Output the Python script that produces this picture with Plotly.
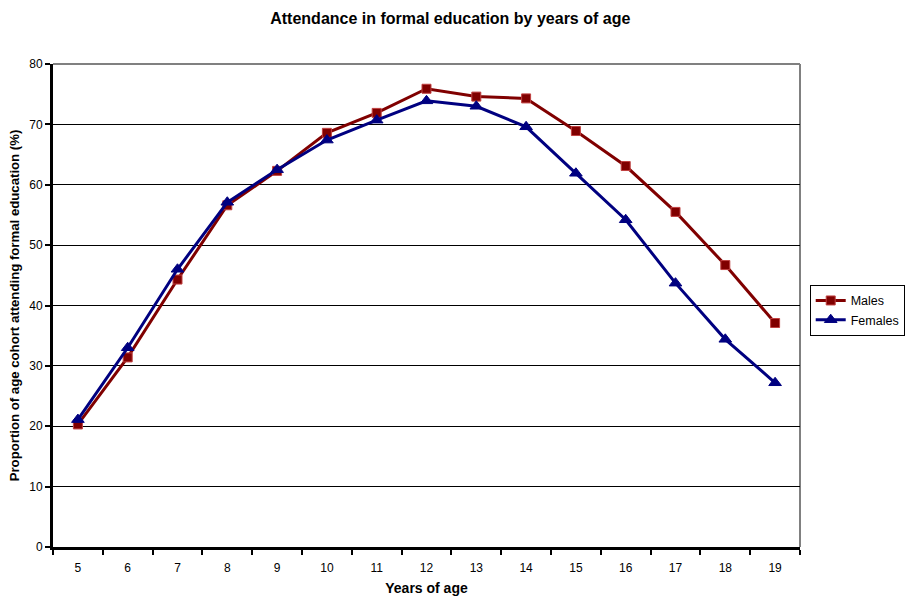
import plotly.graph_objects as go

# Age groups and attendance rates (%)
ages = ["5", "6", "7", "8", "9", "10", "11", "12", "13", "14", "15", "16", "17", "18", "19"]
males = [20.3, 31.4, 44.3, 56.6, 62.3, 68.6, 71.9, 75.9, 74.6, 74.3, 68.9, 63.1, 55.5, 46.7, 37.1]
females = [21.1, 33.0, 46.0, 57.1, 62.5, 67.4, 70.7, 73.9, 73.0, 69.6, 61.9, 54.2, 43.7, 34.4, 27.2]

FONT = "Liberation Sans, Arial, sans-serif"

fig = go.Figure()
fig.add_trace(go.Scatter(
    x=ages, y=males, name="Males", mode="lines+markers",
    line=dict(color="#800000", width=3),
    marker=dict(symbol="square", size=9, color="#800000",
                line=dict(color="#c04040", width=1)),
))
fig.add_trace(go.Scatter(
    x=ages, y=females, name="Females", mode="lines+markers",
    line=dict(color="#000080", width=3),
    marker=dict(symbol="triangle-up", size=11, color="#000080",
                line=dict(color="#000080", width=1)),
))

# Gray frame on the top and right edges of the plot area
fig.add_shape(type="line", xref="paper", yref="paper", x0=0, x1=1, y0=1, y1=1,
              line=dict(color="#808080", width=2), layer="below")
fig.add_shape(type="line", xref="paper", yref="paper", x0=1, x1=1, y0=0, y1=1,
              line=dict(color="#808080", width=2), layer="below")

fig.update_layout(
    width=906, height=597,
    margin=dict(l=53, r=106, t=64, b=50, autoexpand=False),
    paper_bgcolor="white", plot_bgcolor="white",
    font=dict(family=FONT, size=12, color="black"),
    title=dict(text="<b>Attendance in formal education by years of age</b>",
               x=0.497, xref="container", xanchor="center", y=0.969, yanchor="middle",
               font=dict(family=FONT, size=16, color="black")),
    xaxis=dict(
        type="category", categoryorder="array", categoryarray=ages,
        range=[-0.5, len(ages) - 0.5],
        showline=True, linecolor="black", linewidth=3,
        ticks="outside", tickson="boundaries", ticklen=5, tickwidth=2, tickcolor="black",
        ticklabelstandoff=8,
        showgrid=False, zeroline=False,
        tickfont=dict(family=FONT, size=12, color="black"),
        title=dict(text="<b>Years of age</b>", standoff=9,
                   font=dict(family=FONT, size=14, color="black")),
    ),
    yaxis=dict(
        range=[0, 80], dtick=10,
        showline=True, linecolor="black", linewidth=3,
        ticks="outside", ticklen=5, tickwidth=2, tickcolor="black",
        showgrid=True, gridcolor="black", gridwidth=1, zeroline=False,
        tickfont=dict(family=FONT, size=12, color="black"),
        title=dict(text="<b>Proportion of age cohort attending formal education (%)</b>",
                   standoff=7, font=dict(family=FONT, size=13.2, color="black")),
    ),
    legend=dict(
        x=1.013, xanchor="left", y=0.49, yanchor="middle",
        bordercolor="black", borderwidth=1, bgcolor="white",
        font=dict(family=FONT, size=12.5, color="black"),
        itemwidth=30, tracegroupgap=0,
    ),
    showlegend=True,
)

fig.write_html("out.html")
